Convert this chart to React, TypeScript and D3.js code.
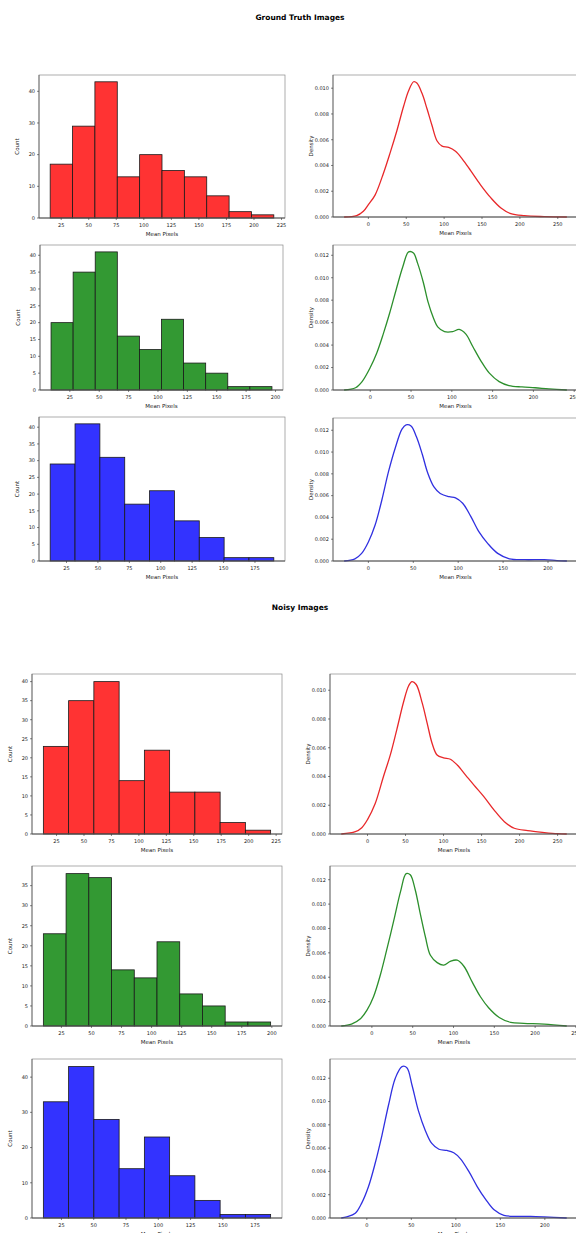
import React from 'react';
import * as d3 from 'd3';

// histogram bin counts, and the [min, max] of the binned values
const gtRedCounts = [17, 29, 43, 13, 20, 15, 13, 7, 2, 1];
const gtRedRange = [15, 218];
const gtGreenCounts = [20, 35, 41, 16, 12, 21, 8, 5, 1, 1];
const gtGreenRange = [9, 197];
const gtBlueCounts = [29, 41, 31, 17, 21, 12, 7, 1, 1];
const gtBlueRange = [12, 190];
const noisyRedCounts = [23, 35, 40, 14, 22, 11, 11, 3, 1];
const noisyRedRange = [13, 220];
const noisyGreenCounts = [23, 38, 37, 14, 12, 21, 8, 5, 1, 1];
const noisyGreenRange = [10, 199];
const noisyBlueCounts = [33, 43, 28, 14, 23, 12, 5, 1, 1];
const noisyBlueRange = [11, 187];

// kde curves, [mean pixels, density]
const gtRedKde = [[-32, 0], [-15.5, 0.0001], [-6.6, 0.00044], [0, 0.00096], [8.8, 0.0017], [19.9, 0.0034], [28.8, 0.005], [37.6, 0.0067], [46.5, 0.0086], [53.1, 0.0098], [59.7, 0.0105], [64, 0.0104], [70.8, 0.0096], [77.4, 0.0084], [84, 0.0071], [90.7, 0.0059], [97.3, 0.0055], [106, 0.0054], [115, 0.0051], [124, 0.0045], [135, 0.0036], [148, 0.0025], [161.5, 0.0015], [175, 0.0007], [188, 0.00026], [206, 0.0001], [232, 0.00003], [262, 0]];
const gtGreenKde = [[-32, 0], [-18, 0.0002], [-10, 0.00075], [0, 0.002], [8, 0.0033], [16, 0.005], [24, 0.0069], [32, 0.009], [40, 0.011], [47, 0.0123], [53, 0.0122], [58, 0.0113], [65, 0.0096], [71, 0.0078], [77, 0.0065], [83, 0.0056], [91, 0.0052], [101, 0.0052], [109, 0.0054], [117, 0.005], [125.5, 0.0039], [135.6, 0.0026], [146, 0.0015], [158, 0.00075], [170, 0.0004], [186, 0.00027], [202, 0.0002], [219, 0.0001], [241, 0]];
const gtBlueKde = [[-27, 0], [-15, 0.0002], [-7.5, 0.0007], [0, 0.00175], [7.5, 0.0033], [15, 0.0056], [22.4, 0.0082], [30, 0.0104], [37.4, 0.0121], [42, 0.0125], [47.5, 0.0124], [53.5, 0.0114], [60, 0.0098], [66, 0.0081], [73, 0.0068], [80, 0.0062], [90, 0.0059], [97, 0.0058], [105, 0.0053], [114, 0.0041], [123, 0.0027], [133, 0.0016], [144, 0.0007], [157, 0.0002], [174, 0.00012], [196, 0.00012], [210, 0.00004], [221, 0]];
const noisyRedKde = [[-34.5, 0], [-16, 0.00016], [-7.5, 0.00044], [0, 0.001], [10, 0.0021], [21, 0.004], [30, 0.0055], [38.7, 0.0073], [47.5, 0.0092], [54, 0.0103], [58.5, 0.0106], [64, 0.0104], [72, 0.0091], [78.5, 0.0077], [85, 0.0063], [91.5, 0.0055], [100, 0.0053], [109, 0.0052], [118, 0.0048], [129, 0.0041], [140, 0.0034], [153, 0.0026], [166, 0.0017], [180, 0.00086], [193, 0.0004], [210.6, 0.00023], [232.6, 0.0001], [250, 0.00002], [262, 0]];
const noisyGreenKde = [[-37.5, 0], [-25, 0.00016], [-14, 0.0006], [-6, 0.0013], [2, 0.0024], [10, 0.0041], [18, 0.0062], [27, 0.0087], [35, 0.011], [42, 0.0125], [47, 0.0124], [53, 0.0112], [59, 0.0093], [65.6, 0.0073], [71.7, 0.0058], [80, 0.0052], [88, 0.005], [96, 0.0053], [104.5, 0.0054], [112.7, 0.0049], [123, 0.0036], [133, 0.0024], [143, 0.0015], [156, 0.0007], [170, 0.0003], [186, 0.00022], [211, 0.00016], [238.7, 0]];
const noisyBlueKde = [[-28.7, 0], [-22.5, 0.0001], [-13, 0.0004], [-5.6, 0.0013], [1.9, 0.0027], [9.4, 0.0047], [17, 0.0071], [24.4, 0.0097], [32, 0.012], [39.5, 0.013], [45, 0.0129], [50.8, 0.0114], [58, 0.0092], [65.8, 0.0075], [73, 0.0064], [81, 0.0059], [90, 0.0058], [97.7, 0.0056], [105, 0.0051], [114.6, 0.004], [124, 0.0027], [133.5, 0.0016], [143, 0.0007], [154, 0.00023], [169, 0.00014], [184, 0.00014], [199, 0.0001], [224.6, 0]];

// tick labels
const histX225 = [25, 50, 75, 100, 125, 150, 175, 200, 225];
const histX200 = [25, 50, 75, 100, 125, 150, 175, 200];
const histX175 = [25, 50, 75, 100, 125, 150, 175];
const countBy10 = [0, 10, 20, 30, 40];
const countBy5 = [0, 5, 10, 15, 20, 25, 30, 35, 40];
const countBy5to35 = [0, 5, 10, 15, 20, 25, 30, 35];
const kdeX250 = [0, 50, 100, 150, 200, 250];
const kdeX200 = [0, 50, 100, 150, 200];
const density10 = [0, 0.002, 0.004, 0.006, 0.008, 0.01];
const density12 = [0, 0.002, 0.004, 0.006, 0.008, 0.01, 0.012];

const FONT = 'DejaVu Sans, sans-serif';
const fills = { red: '#ff3333', green: '#339933', blue: '#3333ff' };
const lines = { red: '#e8282a', green: '#2c8f2c', blue: '#3030e0' };

function Frame({ x, y, xTicks, yTicks, x0, x1, y0, y1, xFmt, yFmt, yLabel }) {
  const xc = (x0 + x1) / 2;
  const yc = (y0 + y1) / 2;
  return (
    <g fontFamily={FONT} fill="#222">
      <rect x={x0} y={y0} width={x1 - x0} height={y1 - y0} fill="none" stroke="#8a8a8a" strokeWidth={0.7} />
      <line x1={x0} x2={x1} y1={y1} y2={y1} stroke="#333" strokeWidth={0.8} />
      <line x1={x0} x2={x0} y1={y0} y2={y1} stroke="#555" strokeWidth={0.7} />
      {xTicks.map(t => (
        <g key={'x' + t}>
          <line x1={x(t)} x2={x(t)} y1={y1} y2={y1 + 2} stroke="#333" strokeWidth={0.6} />
          <text x={x(t)} y={y1 + 8.5} fontSize={5} textAnchor="middle">{xFmt(t)}</text>
        </g>
      ))}
      {yTicks.map(t => (
        <g key={'y' + t}>
          <line x1={x0 - 2} x2={x0} y1={y(t)} y2={y(t)} stroke="#333" strokeWidth={0.6} />
          <text x={x0 - 4} y={y(t) + 1.8} fontSize={5} textAnchor="end">{yFmt(t)}</text>
        </g>
      ))}
      <text x={xc} y={y1 + 17.5} fontSize={5.5} textAnchor="middle">Mean Pixels</text>
      <text transform={`translate(${x0 - 20},${yc}) rotate(-90)`} fontSize={5.5} textAnchor="middle">{yLabel}</text>
    </g>
  );
}

function Hist({ box, counts, range, color, xTicks, yTicks }) {
  const [x0, y0, x1, y1] = box;
  const pad = (range[1] - range[0]) * 0.05;
  const x = d3.scaleLinear().domain([range[0] - pad, range[1] + pad]).range([x0, x1]);
  const y = d3.scaleLinear().domain([0, d3.max(counts) * 1.05]).range([y1, y0]);
  const bw = (range[1] - range[0]) / counts.length;
  return (
    <g>
      {counts.map((c, i) => (
        <rect key={i} x={x(range[0] + i * bw)} y={y(c)}
          width={x(range[0] + (i + 1) * bw) - x(range[0] + i * bw)} height={y1 - y(c)}
          fill={fills[color]} stroke="#1a1a1a" strokeWidth={0.8} />
      ))}
      <Frame x={x} y={y} xTicks={xTicks} yTicks={yTicks} x0={x0} x1={x1} y0={y0} y1={y1}
        xFmt={d3.format('d')} yFmt={d3.format('d')} yLabel="Count" />
    </g>
  );
}

function Kde({ box, points, color, xTicks, yTicks }) {
  const [x0, y0, x1, y1] = box;
  const ext = d3.extent(points, d => d[0]);
  const pad = (ext[1] - ext[0]) * 0.05;
  const x = d3.scaleLinear().domain([ext[0] - pad, ext[1] + pad]).range([x0, x1]);
  const y = d3.scaleLinear().domain([0, d3.max(points, d => d[1]) * 1.05]).range([y1, y0]);
  const path = d3.line().x(d => x(d[0])).y(d => Math.min(y(d[1]), y1)).curve(d3.curveCatmullRom.alpha(0.5))(points);
  return (
    <g>
      <path d={path} fill="none" stroke={lines[color]} strokeWidth={1.3} strokeLinejoin="round" />
      <Frame x={x} y={y} xTicks={xTicks} yTicks={yTicks} x0={x0} x1={x1} y0={y0} y1={y1}
        xFmt={d3.format('d')} yFmt={d3.format('.3f')} yLabel="Density" />
    </g>
  );
}

export default function App() {
  return (
    <svg width={576} height={1233} style={{ position: 'absolute', left: 0, top: 0, background: '#fff' }}>
      <rect width={576} height={1233} fill="#fff" />
      <text x={300} y={20} fontFamily={FONT} fontSize={7.5} fontWeight="bold" textAnchor="middle">Ground Truth Images</text>
      <text x={300} y={610} fontFamily={FONT} fontSize={7.5} fontWeight="bold" textAnchor="middle">Noisy Images</text>

      <Hist box={[39, 75, 285, 218]} counts={gtRedCounts} range={gtRedRange} color="red" xTicks={histX225} yTicks={countBy10} />
      <Kde box={[333, 75, 578, 217]} points={gtRedKde} color="red" xTicks={kdeX250} yTicks={density10} />
      <Hist box={[40, 245, 283, 390]} counts={gtGreenCounts} range={gtGreenRange} color="green" xTicks={histX200} yTicks={countBy5} />
      <Kde box={[333, 245, 578, 390]} points={gtGreenKde} color="green" xTicks={kdeX250} yTicks={density12} />
      <Hist box={[39, 417, 285, 561]} counts={gtBlueCounts} range={gtBlueRange} color="blue" xTicks={histX175} yTicks={countBy5} />
      <Kde box={[333, 418, 578, 561]} points={gtBlueKde} color="blue" xTicks={kdeX200} yTicks={density12} />

      <Hist box={[32, 674, 282, 834]} counts={noisyRedCounts} range={noisyRedRange} color="red" xTicks={histX225} yTicks={countBy5} />
      <Kde box={[330, 674, 578, 834]} points={noisyRedKde} color="red" xTicks={kdeX250} yTicks={density10} />
      <Hist box={[32, 866, 282, 1026]} counts={noisyGreenCounts} range={noisyGreenRange} color="green" xTicks={histX200} yTicks={countBy5to35} />
      <Kde box={[330, 866, 578, 1026]} points={noisyGreenKde} color="green" xTicks={kdeX250} yTicks={density12} />
      <Hist box={[32, 1059, 282, 1218]} counts={noisyBlueCounts} range={noisyBlueRange} color="blue" xTicks={histX175} yTicks={countBy10} />
      <Kde box={[330, 1059, 578, 1218]} points={noisyBlueKde} color="blue" xTicks={kdeX200} yTicks={density12} />
    </svg>
  );
}
